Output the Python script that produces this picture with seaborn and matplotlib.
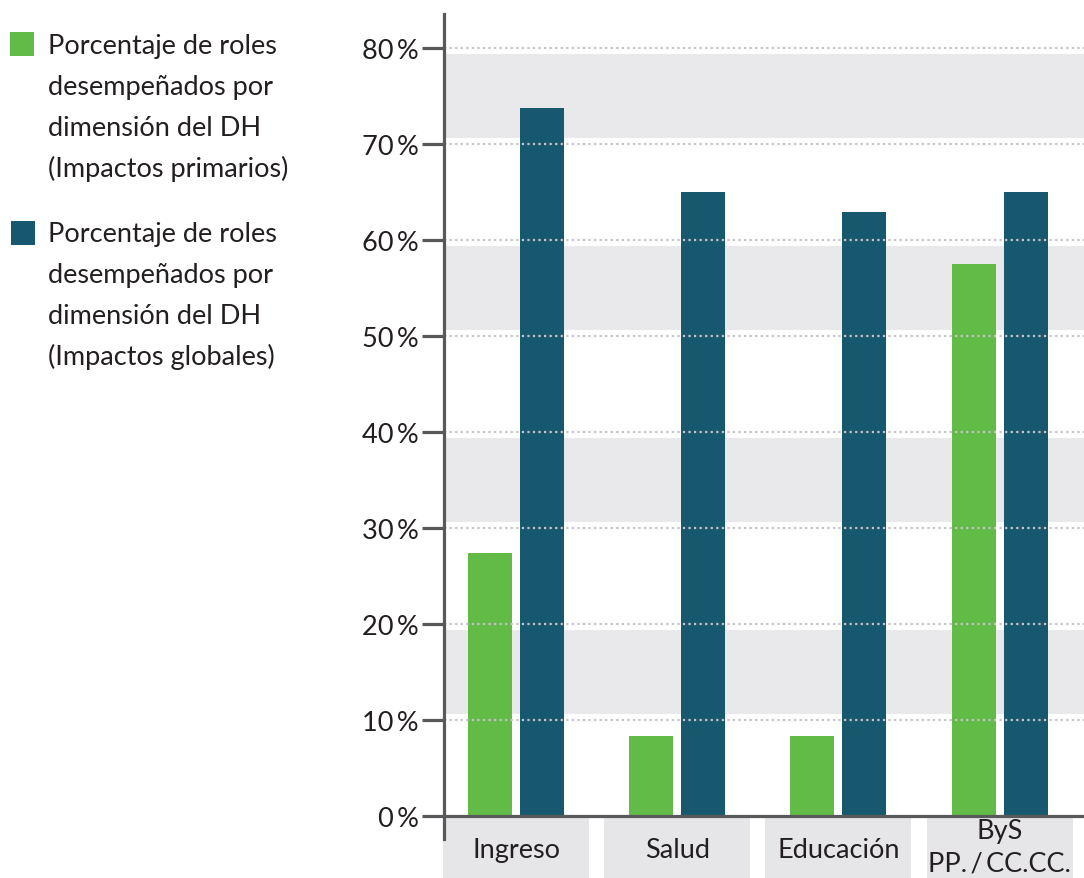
import matplotlib
matplotlib.use("Agg")
import matplotlib.pyplot as plt
from matplotlib.patches import Rectangle
import seaborn as sns
import pandas as pd

# ---- data ----
categories = ["Ingreso", "Salud", "Educación", "ByS\nPP.\u2009/\u2009CC.CC."]
primarios = [27.4, 8.3, 8.3, 57.5]
globales = [73.7, 65.0, 62.9, 65.0]
series_names = [
    "Porcentaje de roles\ndesempeñados por\ndimensión del DH\n(Impactos primarios)",
    "Porcentaje de roles\ndesempeñados por\ndimensión del DH\n(Impactos globales)",
]
yticks = [0, 10, 20, 30, 40, 50, 60, 70, 80]

colors = ["#62bb47", "#18586f"]
axis_col = "#58595b"
text_col = "#231f20"
band_col = "#e9e9eb"
grid_col = "#c4c4c8"
box_col = "#e6e6e8"

df = pd.DataFrame({
    "cat": categories * 2,
    "val": primarios + globales,
    "serie": [series_names[0]] * 4 + [series_names[1]] * 4,
})

sns.set_theme(style="white")
plt.rcParams["font.family"] = ["Lato", "DejaVu Sans"]

W, H = 1084, 879
fig = plt.figure(figsize=(W / 100, H / 100), dpi=100)
ax = fig.add_axes([444 / W, 0, (W - 444) / W, (H - 15) / H])

ymin, ymax = -6.45, 83.54

# background bands
for lo in [10, 30, 50, 70]:
    ax.axhspan(lo + 0.6, lo + 10 - 0.6, color=band_col, zorder=0, lw=0)

sns.barplot(data=df, x="cat", y="val", hue="serie", order=categories,
            hue_order=series_names, palette=colors, width=0.645, gap=0.154,
            saturation=1, legend=False, ax=ax, zorder=2,
            linewidth=0, edgecolor="none")
ax.set_xlim(-0.447, 3.524)
ax.set_ylim(ymin, ymax)

# dotted gridlines (above bars)
for v in yticks[1:]:
    ax.axhline(v, color=grid_col, lw=1.6, ls=(0, (1, 1.5)), zorder=3)

# zero axis line
ax.axhline(0, color=axis_col, lw=2.3, zorder=4, solid_capstyle="butt")

# spines
for s in ["top", "right", "bottom"]:
    ax.spines[s].set_visible(False)
ax.spines["left"].set_color(axis_col)
ax.spines["left"].set_linewidth(2.3)
ax.spines["left"].set_bounds(-2.4, ymax)
ax.spines["left"].set_zorder(5)

ax.set_yticks(yticks)
ax.set_yticklabels([f"{v}\u2009%" for v in yticks])
ax.tick_params(axis="y", length=16, width=2.3, color=axis_col, pad=2,
               labelsize=19.5, labelcolor=text_col, left=True)
ax.set_xticks([])
ax.set_xlabel("")
ax.set_ylabel("")

# category label boxes
for i, c in enumerate(categories):
    ax.add_patch(Rectangle((i - 0.453, ymin), 0.906, -0.21 - ymin,
                           facecolor=box_col, edgecolor="none",
                           clip_on=False, zorder=1))
    ypos = -3.45 if "\n" not in c else -3.2
    ax.text(i, ypos, c, ha="center", va="center", fontsize=19.5,
            color=text_col, linespacing=1.42, clip_on=False, zorder=6)

# legend (manual, figure pixels)
def fy(py):
    return 1 - py / H

legend_specs = [
    (colors[0], (10, 33), [54, 95, 136, 177]),
    (colors[1], (11, 222), [242, 283, 324, 365]),
]
for (col, (sx, sy), baselines), name in zip(legend_specs, series_names):
    fig.patches.append(Rectangle((sx / W, fy(sy + 24)), 24 / W, 24 / H,
                                 transform=fig.transFigure, facecolor=col,
                                 edgecolor="none"))
    for line, b in zip(name.split("\n"), baselines):
        fig.text(48 / W, fy(b), line, ha="left", va="baseline",
                 fontsize=19.5, color=text_col)

fig.savefig("out.png", dpi=100)
